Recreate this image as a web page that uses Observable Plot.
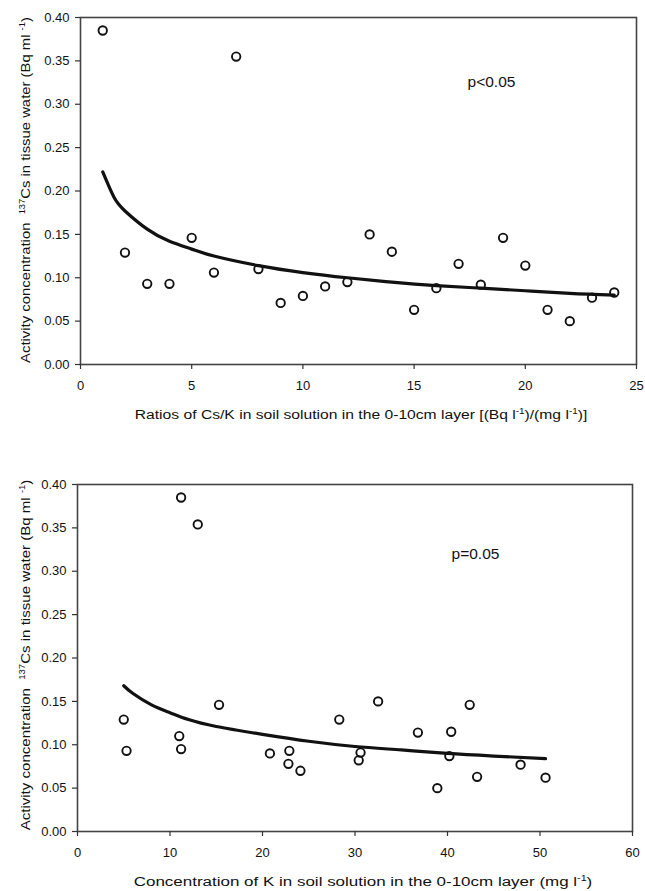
<!DOCTYPE html>
<html>
<head>
<meta charset="utf-8">
<script src="https://cdn.jsdelivr.net/npm/d3@7"></script>
<script src="https://cdn.jsdelivr.net/npm/@observablehq/plot@0.6"></script>
<style>
  html, body { margin: 0; padding: 0; background: #fff; }
  #chart { width: 645px; }
  svg { display: block; }
</style>
</head>
<body>
<div id="chart"></div>
<script>
// ---------- data ----------
const yTicks = [0, 0.05, 0.10, 0.15, 0.20, 0.25, 0.30, 0.35, 0.40];
const topXTicks = [0, 5, 10, 15, 20, 25];
const botXTicks = [0, 10, 20, 30, 40, 50, 60];

// Panel 1: ratio Cs/K vs activity concentration
const topX = [1, 2, 3, 4, 5, 6, 7, 8, 9, 10, 11, 12, 13, 14, 15, 16, 17, 18, 19, 20, 21, 22, 23, 24];
const topY = [0.385, 0.129, 0.093, 0.093, 0.146, 0.106, 0.355, 0.110, 0.071, 0.079, 0.090, 0.095,
              0.150, 0.130, 0.063, 0.088, 0.116, 0.092, 0.146, 0.114, 0.063, 0.050, 0.077, 0.083];
// fitted curve
const topCurveX = [1, 1.5, 2, 3, 4, 5, 6, 8, 10, 12, 14, 16, 18, 20, 22, 24];
const topCurveY = [0.222, 0.193, 0.177, 0.156, 0.142, 0.133, 0.125, 0.114, 0.106, 0.100, 0.095, 0.091, 0.088, 0.085, 0.082, 0.080];

// Panel 2: K concentration vs activity concentration
const botX = [5.0, 5.3, 11.0, 11.2, 11.2, 13.0, 15.3, 20.8, 22.9, 22.8, 24.1, 28.3, 30.4, 30.6,
              32.5, 36.8, 38.9, 40.2, 40.4, 42.4, 43.2, 47.9, 50.6];
const botY = [0.129, 0.093, 0.110, 0.095, 0.385, 0.354, 0.146, 0.090, 0.093, 0.078, 0.070, 0.129, 0.082, 0.091,
              0.150, 0.114, 0.050, 0.087, 0.115, 0.146, 0.063, 0.077, 0.062];
const botCurveX = [5, 6, 8, 10, 12, 15, 20, 25, 30, 35, 40, 45, 50.6];
const botCurveY = [0.168, 0.159, 0.146, 0.137, 0.129, 0.121, 0.112, 0.104, 0.098, 0.094, 0.090, 0.087, 0.084];

const topLabel = "p<0.05";
const botLabel = "p=0.05";

// ---------- helpers ----------
const FONT = '"Liberation Sans", Arial, Helvetica, sans-serif';
const pts = (xs, ys) => xs.map((x, i) => ({x, y: ys[i]}));

function panel({xTicks, xDomain, points, curve, label, height, mTop, mBottom, mLeft, mRight, labelDx, labelDy}) {
  return Plot.plot({
    width: 645,
    height,
    marginTop: mTop,
    marginBottom: mBottom,
    marginLeft: mLeft,
    marginRight: mRight,
    style: {fontFamily: FONT, fontSize: "13px", color: "#111", background: "#fff"},
    x: {domain: xDomain},
    y: {domain: [0, 0.4]},
    marks: [
      Plot.frame({stroke: "#444", strokeWidth: 1.6}),
      Plot.axisX({ticks: xTicks, tickSize: 5, tickPadding: 11, label: null, tickFormat: d => String(d),
                  fontSize: 13, stroke: "#333", strokeWidth: 1.2}),
      Plot.axisY({ticks: yTicks, tickSize: 5, tickPadding: 6, label: null, tickFormat: d3.format(".2f"),
                  fontSize: 13, stroke: "#333", strokeWidth: 1.2}),
      Plot.line(curve, {x: "x", y: "y", curve: "natural", stroke: "#111", strokeWidth: 3.2}),
      Plot.dot(points, {x: "x", y: "y", r: 4.2, stroke: "#111", strokeWidth: 1.9, fill: "none"}),
      Plot.text([label], {frameAnchor: "top-left", dx: labelDx, dy: labelDy, textAnchor: "middle",
                          lineAnchor: "middle", fontSize: 15.5, fill: "#111"})
    ]
  });
}

function addTitle(svg, parts, {x, y, rotate = 0, width, size = 13.5}) {
  const g = d3.select(svg).append("g")
    .attr("transform", `translate(${x},${y}) rotate(${rotate})`);
  const t = g.append("text")
    .attr("text-anchor", "middle")
    .style("font-family", FONT)
    .style("font-size", size + "px")
    .style("white-space", "pre")
    .attr("fill", "#111");
  let raised = false;
  for (const [txt, sup] of parts) {
    const s = t.append("tspan").text(txt);
    if (sup && !raised) { s.attr("dy", -5.5).style("font-size", "8.5px"); raised = true; }
    else if (sup && raised) { s.style("font-size", "8.5px"); }
    else if (!sup && raised) { s.attr("dy", 5.5); raised = false; }
  }
  const w = t.node().getBBox().width;
  const k = w > 0 ? width / w : 1;
  g.attr("transform", `translate(${x},${y}) rotate(${rotate}) scale(${k},1)`);
}

const container = document.getElementById("chart");

const topPanel = panel({
  xTicks: topXTicks, xDomain: [0, 25], points: pts(topX, topY), curve: pts(topCurveX, topCurveY),
  label: topLabel, height: 440, mTop: 17, mBottom: 76, mLeft: 80, mRight: 9, labelDx: 411, labelDy: 65
});
container.appendChild(topPanel);

const botPanel = panel({
  xTicks: botXTicks, xDomain: [0, 60], points: pts(botX, botY), curve: pts(botCurveX, botCurveY),
  label: botLabel, height: 451, mTop: 44, mBottom: 60, mLeft: 77, mRight: 13, labelDx: 398, labelDy: 70
});
container.appendChild(botPanel);

const yTitle = [["Activity concentration  "], ["137", true], ["Cs in tissue water (Bq ml "], ["-1", true], [")"]];

addTitle(topPanel, yTitle, {x: 30, y: 190, rotate: -90, width: 346});
addTitle(topPanel, [["Ratios of Cs/K in soil solution in the 0-10cm layer [(Bq l"], ["-1", true], [")/(mg l"], ["-1", true], [")]"]],
         {x: 361, y: 419, width: 453});

addTitle(botPanel, yTitle, {x: 30, y: 215, rotate: -90, width: 351});
addTitle(botPanel, [["Concentration of K in soil solution in the 0-10cm layer (mg l"], ["-1", true], [")"]],
         {x: 363, y: 446, width: 459});
</script>
</body>
</html>
